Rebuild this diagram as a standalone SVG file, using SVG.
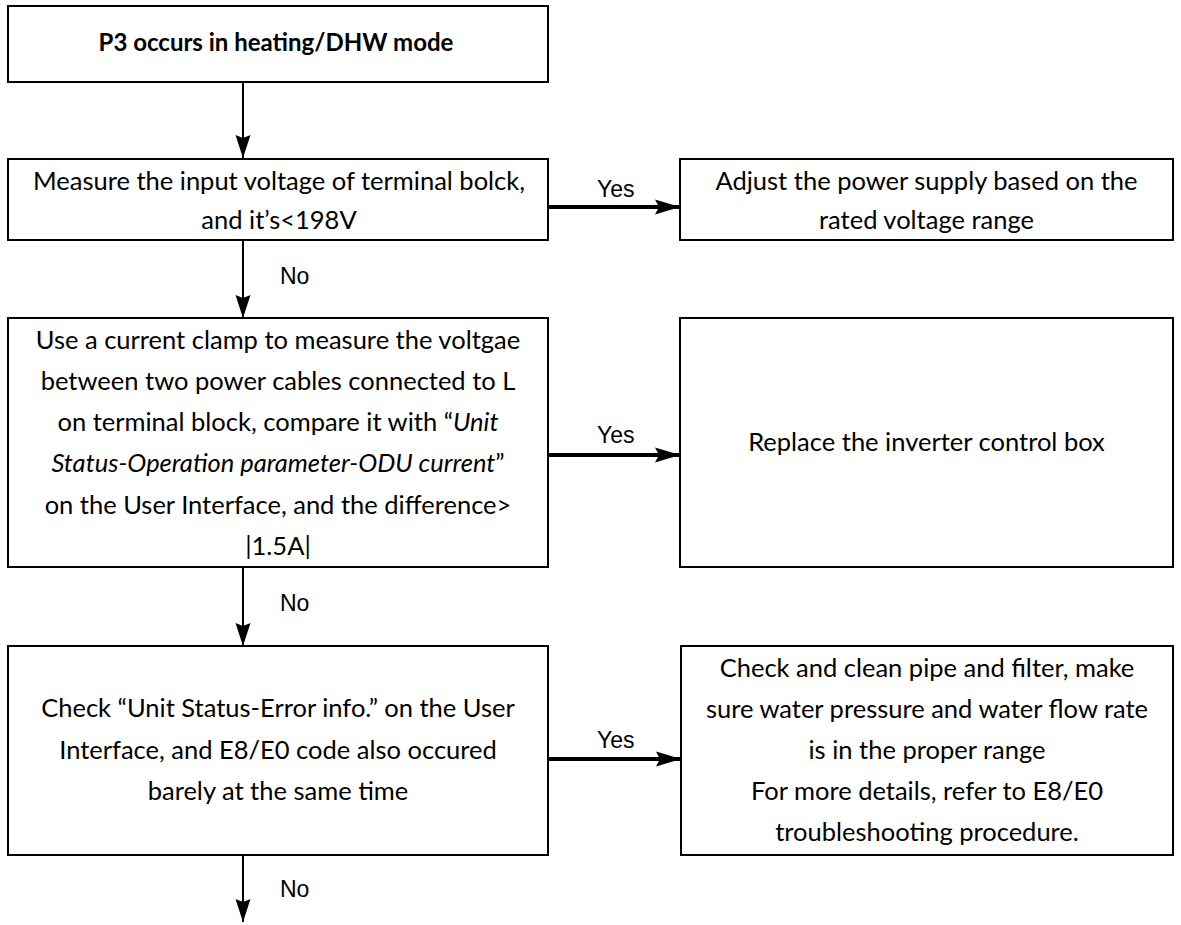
<svg xmlns="http://www.w3.org/2000/svg" width="1181" height="925" viewBox="0 0 1181 925">
<style>
.box{fill:#fff;stroke:#000;stroke-width:2}
.t{font-family:Lato,"Liberation Sans",sans-serif;font-size:25.5px;fill:#000;text-anchor:middle}
.title{font-family:Lato,"Liberation Sans",sans-serif;font-size:24px;font-weight:bold;fill:#000;text-anchor:middle}
.lbl{font-family:"Liberation Sans",Arial,sans-serif;font-size:23px;fill:#000}
.thin{stroke:#000;stroke-width:2;fill:none}
.thick{stroke:#000;stroke-width:4;fill:none}
.i{font-style:italic}
</style>
<defs>
<marker id="ahv" markerUnits="userSpaceOnUse" markerWidth="24" markerHeight="16" refX="23" refY="8" orient="auto">
<path d="M0,0.5 L23,8 L0,15.5 L3,8 z" fill="#000"/>
</marker>
<marker id="ahh" markerUnits="userSpaceOnUse" markerWidth="26" markerHeight="16" refX="25" refY="8" orient="auto">
<path d="M0,0.5 L25,8 L0,15.5 L4,8 z" fill="#000"/>
</marker>
</defs>
<g id="connectors">
<path class="thin" d="M243,82 V158" marker-end="url(#ahv)"/>
<path class="thick" d="M548,207 H680" marker-end="url(#ahh)"/>
<path class="thin" d="M243,240 V318" marker-end="url(#ahv)"/>
<path class="thick" d="M548,455 H680" marker-end="url(#ahh)"/>
<path class="thin" d="M243,567 V646" marker-end="url(#ahv)"/>
<path class="thick" d="M548,759 H681" marker-end="url(#ahh)"/>
<path class="thin" d="M243,855 V922" marker-end="url(#ahv)"/>
<text class="lbl" x="597" y="197">Yes</text>
<text class="lbl" x="280" y="284">No</text>
<text class="lbl" x="597" y="443">Yes</text>
<text class="lbl" x="280" y="611">No</text>
<text class="lbl" x="597" y="748">Yes</text>
<text class="lbl" x="280" y="897">No</text>
</g>
<g id="n1">
<rect class="box" x="8" y="6" width="540" height="76"/>
<text class="title" x="276" y="51">P3 occurs in heating/DHW mode</text>
</g>
<g id="n2">
<rect class="box" x="8" y="159" width="540" height="81"/>
<text class="t" x="279" y="190">Measure the input voltage of terminal bolck,</text>
<text class="t" x="279" y="229">and it’s&lt;198V</text>
</g>
<g id="n3">
<rect class="box" x="680" y="159" width="493" height="81"/>
<text class="t" x="926.5" y="190">Adjust the power supply based on the</text>
<text class="t" x="926.5" y="229">rated voltage range</text>
</g>
<g id="n4">
<rect class="box" x="8" y="318" width="540" height="249"/>
<text class="t" x="278" y="349">Use a current clamp to measure the voltgae</text>
<text class="t" x="278" y="390">between two power cables connected to L</text>
<text class="t" x="278" y="431">on terminal block, compare it with “<tspan class="i">Unit</tspan></text>
<text class="t" x="278" y="472"><tspan class="i">Status-Operation parameter-ODU current</tspan>”</text>
<text class="t" x="278" y="514">on the User Interface, and the difference&gt;</text>
<text class="t" x="278" y="555">|1.5A|</text>
</g>
<g id="n5">
<rect class="box" x="680" y="318" width="493" height="249"/>
<text class="t" x="926.5" y="451">Replace the inverter control box</text>
</g>
<g id="n6">
<rect class="box" x="8" y="646" width="540" height="209"/>
<text class="t" x="278" y="717">Check “Unit Status-Error info.” on the User</text>
<text class="t" x="278" y="759">Interface, and E8/E0 code also occured</text>
<text class="t" x="278" y="800">barely at the same time</text>
</g>
<g id="n7">
<rect class="box" x="681" y="646" width="492" height="209"/>
<text class="t" x="927" y="677">Check and clean pipe and filter, make</text>
<text class="t" x="927" y="718">sure water pressure and water flow rate</text>
<text class="t" x="927" y="759">is in the proper range</text>
<text class="t" x="927" y="800">For more details, refer to E8/E0</text>
<text class="t" x="927" y="841">troubleshooting procedure.</text>
</g>
</svg>
